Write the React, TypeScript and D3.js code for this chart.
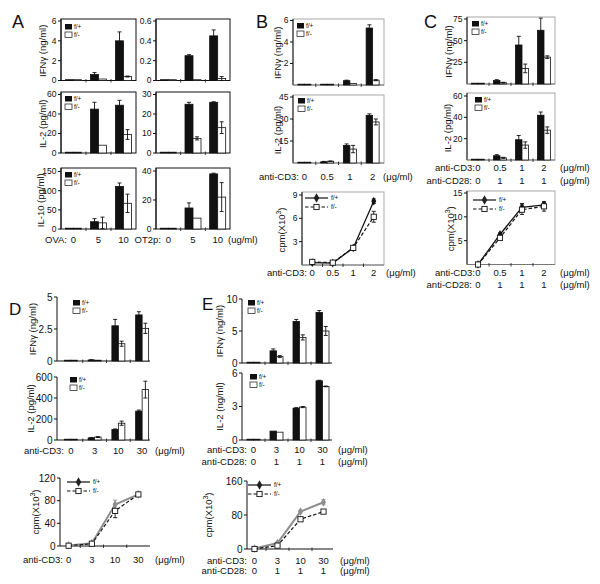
import React from 'react';
import * as d3 from 'd3';

const FONT = '"Liberation Sans", Arial, Helvetica, sans-serif';

// ---- A: OVA / OT2p (left / right columns)
const aCats = ['0', '5', '10'];
const aIfnOvaWt = [0, 0.6, 4.0];
const aIfnOvaWtErr = [0, 0.2, 0.9];
const aIfnOvaKo = [0, 0.15, 0.4];
const aIfnOvaKoErr = [0, 0, 0.05];
const aIfnOtWt = [0, 0.25, 0.45];
const aIfnOtWtErr = [0, 0.01, 0.06];
const aIfnOtKo = [0, 0, 0.02];
const aIfnOtKoErr = [0, 0, 0.02];
const aIl2OvaWt = [0, 45, 49];
const aIl2OvaWtErr = [0, 7, 5];
const aIl2OvaKo = [0, 8, 19];
const aIl2OvaKoErr = [0, 0, 5];
const aIl2OtWt = [0, 25, 26];
const aIl2OtWtErr = [0, 1, 0.3];
const aIl2OtKo = [0, 7.5, 13];
const aIl2OtKoErr = [0, 0.8, 3];
const aIl10OvaWt = [0, 19, 111];
const aIl10OvaWtErr = [0, 8, 9];
const aIl10OvaKo = [0, 16, 67];
const aIl10OvaKoErr = [0, 15, 24];
const aIl10OtWt = [0, 14.5, 38];
const aIl10OtWtErr = [0, 3.5, 0.5];
const aIl10OtKo = [0, 7.5, 22];
const aIl10OtKoErr = [0, 0, 10];

// ---- B: anti-CD3
const bCats = ['0', '0.5', '1', '2'];
const bIfnWt = [0, 0.05, 0.4, 5.3];
const bIfnWtErr = [0, 0, 0.05, 0.3];
const bIfnKo = [0, 0.03, 0.15, 0.45];
const bIfnKoErr = [0, 0, 0, 0.05];
const bIl2Wt = [0, 0.8, 12, 32.5];
const bIl2WtErr = [0, 0.3, 1, 1];
const bIl2Ko = [0, 1.2, 9.5, 28];
const bIl2KoErr = [0, 0.2, 2.5, 2];
const bCpmWt = [0.3, 0.25, 2.2, 8.2];
const bCpmWtErr = [0, 0, 0.1, 0.3];
const bCpmKo = [0.4, 0.3, 2.2, 6.2];
const bCpmKoErr = [0, 0, 0.2, 0.7];

// ---- C: anti-CD3 + anti-CD28
const cCats = ['0', '0.5', '1', '2'];
const cCd28 = ['0', '1', '1', '1'];
const cIfnWt = [0, 4, 45, 62];
const cIfnWtErr = [0, 1, 10, 14];
const cIfnKo = [0, 1.5, 18, 31];
const cIfnKoErr = [0, 0.5, 5, 1.5];
const cIl2Wt = [0, 4, 19, 42];
const cIl2WtErr = [0, 1, 4, 3];
const cIl2Ko = [0, 2, 14, 28];
const cIl2KoErr = [0, 0.5, 3, 3];
const cCpmWt = [0, 6.3, 12, 12.5];
const cCpmWtErr = [0, 0.3, 0.8, 0.5];
const cCpmKo = [0, 5.6, 11.5, 12.2];
const cCpmKoErr = [0, 0.3, 1, 1];

// ---- D: anti-CD3
const dCats = ['0', '3', '10', '30'];
const dIfnWt = [0, 0.08, 2.75, 3.6];
const dIfnWtErr = [0, 0.02, 0.5, 0.25];
const dIfnKo = [0, 0.05, 1.35, 2.55];
const dIfnKoErr = [0, 0, 0.2, 0.4];
const dIl2Wt = [0, 20, 100, 275];
const dIl2WtErr = [0, 4, 5, 10];
const dIl2Ko = [0, 28, 160, 480];
const dIl2KoErr = [0, 4, 20, 80];
const dCpmWt = [1, 5, 73, 91];
const dCpmWtErr = [0, 1, 8, 3];
const dCpmKo = [0.5, 4, 62, 91];
const dCpmKoErr = [0, 0, 12, 3];

// ---- E: anti-CD3 + anti-CD28
const eCats = ['0', '3', '10', '30'];
const eCd28 = ['0', '1', '1', '1'];
const eIfnWt = [0, 1.9, 6.5, 7.9];
const eIfnWtErr = [0, 0.3, 0.3, 0.3];
const eIfnKo = [0, 1.0, 4.0, 5.0];
const eIfnKoErr = [0, 0.15, 0.4, 0.7];
const eIl2Wt = [0, 0.8, 2.85, 5.3];
const eIl2WtErr = [0, 0, 0.05, 0.05];
const eIl2Ko = [0, 0.7, 2.95, 4.8];
const eIl2KoErr = [0, 0, 0.05, 0.03];
const eCpmWt = [1, 14, 88, 110];
const eCpmWtErr = [0, 2, 3, 6];
const eCpmKo = [0, 8, 70, 88];
const eCpmKoErr = [0, 0, 0, 0];

const IFN = 'IFN\u03b3 (ng/ml)';
const UG = '(\u03bcg/ml)';

type Row = { y: number; prefix: string; end: number; labels: string[]; suffix?: string; sx?: number };
type Series = { wt: number[]; wtErr: number[]; ko: number[]; koErr: number[] };

interface PanelProps {
  cats: string[];
  band: [number, number];
  axisX: number;
  right: number;
  base: number;
  top: number;
  max: number;
  ticks: number[];
  tickFs: number;
  frame: 'black' | 'gray' | 'axes';
  boxTop?: number;
  ylabel?: React.ReactNode;
  lx?: number;
  legend?: [number, number];
  rows: Row[];
  s: Series;
}

const ser = (wt: number[], wtErr: number[], ko: number[], koErr: number[]): Series => ({ wt, wtErr, ko, koErr });

function XRows({ rows, centers }: { rows: Row[]; centers: number[] }) {
  return (
    <g fontSize={9.5} fill="#111">
      {rows.map((r, i) => (
        <g key={i}>
          <text x={r.end} y={r.y} textAnchor="end">{r.prefix}</text>
          {r.labels.map((l, j) => (
            <text key={j} x={centers[j]} y={r.y} textAnchor="middle">{l}</text>
          ))}
          {r.suffix && <text x={r.sx} y={r.y}>{r.suffix}</text>}
        </g>
      ))}
    </g>
  );
}

function YLabel({ x, y, children }: { x: number; y: number; children: React.ReactNode }) {
  return (
    <text transform={`translate(${x + 3.5},${y}) rotate(-90)`} textAnchor="middle" fontSize={9.5} fill="#111">
      {children}
    </text>
  );
}

const cpmLabel = (
  <>
    cpm(X10<tspan dy={-4} fontSize={7}>3</tspan><tspan dy={4}>)</tspan>
  </>
);

function Frame(p: PanelProps, y: d3.ScaleLinear<number, number>, bounds: number[]) {
  const { axisX, right, base, top, boxTop, frame, ticks, tickFs } = p;
  return (
    <g>
      {frame === 'axes' ? (
        <g stroke="#111" strokeWidth={1}>
          <line x1={axisX} x2={axisX} y1={top} y2={base} />
          <line x1={axisX} x2={right} y1={base} y2={base} />
        </g>
      ) : (
        <g>
          <rect x={axisX} y={boxTop} width={right - axisX} height={base - (boxTop ?? top)}
            fill="none" stroke={frame === 'black' ? '#111' : '#a8a8a8'} strokeWidth={1} />
          <line x1={axisX} x2={axisX} y1={boxTop} y2={base} stroke="#111" />
          {frame === 'gray' && <line x1={axisX} x2={right} y1={base} y2={base} stroke="#777" />}
        </g>
      )}
      {bounds.map((b, i) => (
        <line key={i} x1={b} x2={b} y1={base - 1.5} y2={base + 2} stroke="#111" strokeWidth={0.8} />
      ))}
      {ticks.map(t => (
        <g key={t}>
          <line x1={axisX - 3} x2={axisX} y1={y(t)} y2={y(t)} stroke="#111" />
          <text x={axisX - 4.5} y={y(t)} dy="0.35em" textAnchor="end" fontSize={tickFs} fill="#111">{t}</text>
        </g>
      ))}
    </g>
  );
}

function ErrBar({ x, y1, y2, color = '#111' }: { x: number; y1: number; y2: number; color?: string }) {
  return (
    <g stroke={color} strokeWidth={0.9}>
      <line x1={x} x2={x} y1={y1} y2={y2} />
      <line x1={x - 2} x2={x + 2} y1={y2} y2={y2} />
      <line x1={x - 2} x2={x + 2} y1={y1} y2={y1} />
    </g>
  );
}

function BarPanel(p: PanelProps & { barW: number }) {
  const x = d3.scaleBand<string>().domain(p.cats).range(p.band);
  const y = d3.scaleLinear().domain([0, p.max]).range([p.base, p.top]);
  const cx = p.cats.map(c => (x(c) ?? 0) + x.bandwidth() / 2);
  const bounds = p.cats.slice(1).map(c => x(c) ?? 0);
  const groups = [
    { vals: p.s.wt, errs: p.s.wtErr, off: -p.barW, fill: '#111' },
    { vals: p.s.ko, errs: p.s.koErr, off: 0, fill: '#fff' },
  ];
  return (
    <g>
      {Frame(p, y, bounds)}
      {groups.map((g, k) =>
        g.vals.map((v, i) => {
          const h = Math.max(p.base - y(v), 0.8);
          return (
            <rect key={`${k}-${i}`} x={cx[i] + g.off} y={p.base - h} width={p.barW} height={h}
              fill={g.fill} stroke="#111" strokeWidth={0.8} />
          );
        })
      )}
      {groups.map((g, k) =>
        g.vals.map((v, i) =>
          g.errs[i] > 0 ? (
            <ErrBar key={`e${k}-${i}`} x={cx[i] + g.off + p.barW / 2}
              y1={y(Math.max(0, v - g.errs[i]))} y2={y(v + g.errs[i])} />
          ) : null
        )
      )}
      {p.legend && (
        <g fontSize={6.5} fill="#111">
          <rect x={p.legend[0]} y={p.legend[1]} width={7} height={5.5} fill="#111" />
          <text x={p.legend[0] + 9} y={p.legend[1] + 5}>f/+</text>
          <rect x={p.legend[0]} y={p.legend[1] + 8} width={7} height={5.5} fill="#fff" stroke="#111" strokeWidth={0.7} />
          <text x={p.legend[0] + 9} y={p.legend[1] + 13}>f/-</text>
        </g>
      )}
      {p.ylabel && <YLabel x={p.lx ?? 0} y={(p.base + p.top) / 2}>{p.ylabel}</YLabel>}
      <XRows rows={p.rows} centers={cx} />
    </g>
  );
}

function Diamond({ x, y, fill, size = 22 }: { x: number; y: number; fill: string; size?: number }) {
  return <path d={d3.symbol(d3.symbolDiamond, size)() ?? ''} transform={`translate(${x},${y})`} fill={fill} />;
}

function Square({ x, y }: { x: number; y: number }) {
  return <rect x={x - 2.6} y={y - 2.6} width={5.2} height={5.2} fill="#fff" stroke="#111" strokeWidth={0.9} />;
}

function LinePanel(p: PanelProps & { wtColor: string; wtWidth: number }) {
  const x = d3.scaleBand<string>().domain(p.cats).range(p.band);
  const y = d3.scaleLinear().domain([0, p.max]).range([p.base, p.top]);
  const cx = p.cats.map(c => (x(c) ?? 0) + x.bandwidth() / 2);
  const bounds = p.cats.slice(1).map(c => x(c) ?? 0);
  const line = d3.line<number>().x((_, i) => cx[i]).y(v => y(v));
  const [lx, ly] = p.legend ?? [0, 0];
  return (
    <g>
      {Frame(p, y, bounds)}
      <path d={line(p.s.wt) ?? ''} fill="none" stroke={p.wtColor} strokeWidth={p.wtWidth} />
      <path d={line(p.s.ko) ?? ''} fill="none" stroke="#111" strokeWidth={1.2} strokeDasharray="3.5,2" />
      {p.s.wt.map((v, i) =>
        p.s.wtErr[i] > 0 ? <ErrBar key={`we${i}`} x={cx[i]} y1={y(v - p.s.wtErr[i])} y2={y(v + p.s.wtErr[i])} color={p.wtColor} /> : null
      )}
      {p.s.ko.map((v, i) =>
        p.s.koErr[i] > 0 ? <ErrBar key={`ke${i}`} x={cx[i]} y1={y(v - p.s.koErr[i])} y2={y(v + p.s.koErr[i])} /> : null
      )}
      {p.s.wt.map((v, i) => <Diamond key={`wd${i}`} x={cx[i]} y={y(v)} fill={p.wtColor} />)}
      {p.s.ko.map((v, i) => <Square key={`ks${i}`} x={cx[i]} y={y(v)} />)}
      <g fontSize={6.5} fill="#111">
        <line x1={lx} x2={lx + 23} y1={ly} y2={ly} stroke="#222" strokeWidth={1.3} />
        <Diamond x={lx + 11.5} y={ly} fill="#222" size={26} />
        <text x={lx + 26} y={ly + 2.3}>f/+</text>
        <line x1={lx} x2={lx + 23} y1={ly + 9} y2={ly + 9} stroke="#111" strokeWidth={1.2} strokeDasharray="3.5,2" />
        <Square x={lx + 11.5} y={ly + 9} />
        <text x={lx + 26} y={ly + 11.3}>f/-</text>
      </g>
      {p.ylabel && <YLabel x={p.lx ?? 0} y={(p.base + p.top) / 2}>{p.ylabel}</YLabel>}
      <XRows rows={p.rows} centers={cx} />
    </g>
  );
}

const Letter = ({ x, y, t, fs = 18 }: { x: number; y: number; t: string; fs?: number }) => (
  <text x={x} y={y} fontSize={fs} fill="#111">{t}</text>
);

export default function App() {
  const aL = { cats: aCats, band: [61, 136] as [number, number], axisX: 61, right: 136, frame: 'black' as const, tickFs: 8.5 };
  const aR = { cats: aCats, band: [156, 230] as [number, number], axisX: 156, right: 230, frame: 'black' as const, tickFs: 8.5 };
  return (
    <svg width={600} height={584} style={{ position: 'absolute', left: 0, top: 0, background: '#fff' }} fontFamily={FONT}>
      <rect width={600} height={584} fill="#fff" />
      {/* A */}
      <Letter x={12} y={28} t="A" />
      <BarPanel {...aL} base={80.5} top={21} boxTop={19} max={6} ticks={[0, 2, 4, 6]} barW={8}
        s={ser(aIfnOvaWt, aIfnOvaWtErr, aIfnOvaKo, aIfnOvaKoErr)} legend={[65, 24]}
        ylabel={IFN} lx={42} rows={[]} />
      <BarPanel {...aR} base={80.5} top={21} boxTop={19} max={0.6} ticks={[0, 0.2, 0.4, 0.6]} barW={8}
        s={ser(aIfnOtWt, aIfnOtWtErr, aIfnOtKo, aIfnOtKoErr)} rows={[]} />
      <BarPanel {...aL} base={153} top={94.5} boxTop={92} max={60} ticks={[0, 20, 40, 60]} barW={8}
        s={ser(aIl2OvaWt, aIl2OvaWtErr, aIl2OvaKo, aIl2OvaKoErr)} legend={[65, 96]}
        ylabel="IL-2 (pg/ml)" lx={42} rows={[]} />
      <BarPanel {...aR} base={153} top={94.5} boxTop={92} max={30} ticks={[0, 10, 20, 30]} barW={8}
        s={ser(aIl2OtWt, aIl2OtWtErr, aIl2OtKo, aIl2OtKoErr)} rows={[]} />
      <BarPanel {...aL} base={229} top={171.5} boxTop={168} max={150} ticks={[0, 50, 100, 150]} barW={8}
        s={ser(aIl10OvaWt, aIl10OvaWtErr, aIl10OvaKo, aIl10OvaKoErr)} legend={[65, 172]}
        ylabel="IL-10 (pg/ml)" lx={40} rows={[{ y: 243, prefix: 'OVA:', end: 67, labels: aCats }]} />
      <BarPanel {...aR} base={229} top={171} boxTop={168} max={40} ticks={[0, 20, 40]} barW={8}
        s={ser(aIl10OtWt, aIl10OtWtErr, aIl10OtKo, aIl10OtKoErr)}
        rows={[{ y: 243, prefix: 'OT2p:', end: 161, labels: aCats, suffix: '(ug/ml)', sx: 228 }]} />

      {/* B */}
      <Letter x={256} y={28} t="B" />
      <BarPanel cats={bCats} band={[293, 384]} axisX={293} right={384} frame="gray" tickFs={8.5}
        base={85} top={20.5} boxTop={19} max={6} ticks={[2, 4, 6]} barW={6.5}
        s={ser(bIfnWt, bIfnWtErr, bIfnKo, bIfnKoErr)} legend={[297, 23]}
        ylabel={IFN} lx={277} rows={[]} />
      <BarPanel cats={bCats} band={[293, 384]} axisX={293} right={384} frame="gray" tickFs={8.5}
        base={163} top={97} boxTop={95} max={45} ticks={[15, 30, 45]} barW={6.5}
        s={ser(bIl2Wt, bIl2WtErr, bIl2Ko, bIl2KoErr)} legend={[298, 98]}
        ylabel="IL-2 (pg/ml)" lx={277}
        rows={[{ y: 179.5, prefix: 'anti-CD3:', end: 299, labels: bCats, suffix: UG, sx: 383 }]} />
      <LinePanel cats={bCats} band={[302, 384]} axisX={302} right={384} frame="gray" tickFs={8.5}
        base={265} top={195} boxTop={192} max={9} ticks={[3, 6, 9]} wtColor="#111" wtWidth={1.3}
        s={ser(bCpmWt, bCpmWtErr, bCpmKo, bCpmKoErr)} legend={[305, 198]}
        ylabel={cpmLabel} lx={281}
        rows={[{ y: 275.5, prefix: 'anti-CD3:', end: 307, labels: bCats, suffix: UG, sx: 386 }]} />

      {/* C */}
      <Letter x={424} y={28} t="C" />
      <BarPanel cats={cCats} band={[467, 555]} axisX={467} right={555} frame="gray" tickFs={8.5}
        base={84} top={19} boxTop={17} max={75} ticks={[25, 50, 75]} barW={6.5}
        s={ser(cIfnWt, cIfnWtErr, cIfnKo, cIfnKoErr)} legend={[472, 21]}
        ylabel={IFN} lx={448} rows={[]} />
      <BarPanel cats={cCats} band={[467, 555]} axisX={467} right={555} frame="gray" tickFs={8.5}
        base={160} top={96} boxTop={93} max={60} ticks={[20, 40, 60]} barW={6.5}
        s={ser(cIl2Wt, cIl2WtErr, cIl2Ko, cIl2KoErr)} legend={[475, 97]}
        ylabel="IL-2 (pg/ml)" lx={447}
        rows={[
          { y: 171, prefix: 'anti-CD3:', end: 475, labels: cCats, suffix: UG, sx: 560 },
          { y: 183.5, prefix: 'anti-CD28:', end: 472, labels: cCd28, suffix: UG, sx: 560 },
        ]} />
      <LinePanel cats={cCats} band={[467, 555]} axisX={467} right={555} frame="gray" tickFs={8.5}
        base={264.5} top={193} boxTop={191} max={15} ticks={[5, 10, 15]} wtColor="#111" wtWidth={1.3}
        s={ser(cCpmWt, cCpmWtErr, cCpmKo, cCpmKoErr)} legend={[473, 200]}
        ylabel={cpmLabel} lx={450}
        rows={[
          { y: 276, prefix: 'anti-CD3:', end: 475, labels: cCats, suffix: UG, sx: 560 },
          { y: 287.5, prefix: 'anti-CD28:', end: 472, labels: cCd28, suffix: UG, sx: 560 },
        ]} />

      {/* D */}
      <Letter x={9} y={315} t="D" fs={17} />
      <BarPanel cats={dCats} band={[59, 154]} axisX={57} right={150} frame="axes" tickFs={10}
        base={361} top={297} max={5} ticks={[0, 2.5, 5]} barW={6.5}
        s={ser(dIfnWt, dIfnWtErr, dIfnKo, dIfnKoErr)} legend={[73, 300]}
        ylabel={IFN} lx={32} rows={[]} />
      <BarPanel cats={dCats} band={[59, 154]} axisX={57} right={150} frame="axes" tickFs={10}
        base={440} top={377} max={600} ticks={[0, 200, 400, 600]} barW={6.5}
        s={ser(dIl2Wt, dIl2WtErr, dIl2Ko, dIl2KoErr)} legend={[70, 377]}
        ylabel="IL-2 (pg/ml)" lx={30}
        rows={[{ y: 454, prefix: 'anti-CD3:', end: 64, labels: dCats, suffix: UG, sx: 155 }]} />
      <LinePanel cats={dCats} band={[57, 150]} axisX={60} right={150} frame="axes" tickFs={10}
        base={546} top={478} max={120} ticks={[0, 40, 80, 120]} wtColor="#8e8e8e" wtWidth={2}
        s={ser(dCpmWt, dCpmWtErr, dCpmKo, dCpmKoErr)} legend={[67, 482]}
        ylabel={cpmLabel} lx={35}
        rows={[{ y: 562.5, prefix: 'anti-CD3:', end: 63, labels: dCats, suffix: UG, sx: 155 }]} />

      {/* E */}
      <Letter x={202} y={310} t="E" fs={17} />
      <BarPanel cats={eCats} band={[242, 334]} axisX={242} right={332} frame="axes" tickFs={10}
        base={363} top={299} max={10} ticks={[0, 5, 10]} barW={6.5}
        s={ser(eIfnWt, eIfnWtErr, eIfnKo, eIfnKoErr)} legend={[248, 300]}
        ylabel={IFN} lx={219} rows={[]} />
      <BarPanel cats={eCats} band={[242, 334]} axisX={242} right={332} frame="axes" tickFs={10}
        base={440} top={373} max={6} ticks={[0, 3, 6]} barW={6.5}
        s={ser(eIl2Wt, eIl2WtErr, eIl2Ko, eIl2KoErr)} legend={[250, 374]}
        ylabel="IL-2 (ng/ml)" lx={219}
        rows={[
          { y: 453, prefix: 'anti-CD3:', end: 247, labels: eCats, suffix: UG, sx: 338 },
          { y: 465, prefix: 'anti-CD28:', end: 247, labels: eCd28, suffix: UG, sx: 338 },
        ]} />
      <LinePanel cats={eCats} band={[243, 335]} axisX={247} right={333} frame="axes" tickFs={10}
        base={549} top={481} max={160} ticks={[0, 80, 160]} wtColor="#8e8e8e" wtWidth={2}
        s={ser(eCpmWt, eCpmWtErr, eCpmKo, eCpmKoErr)} legend={[248, 485]}
        ylabel={cpmLabel} lx={208}
        rows={[
          { y: 563.5, prefix: 'anti-CD3:', end: 247, labels: eCats, suffix: UG, sx: 340 },
          { y: 574, prefix: 'anti-CD28:', end: 247, labels: eCd28, suffix: UG, sx: 340 },
        ]} />
    </svg>
  );
}
